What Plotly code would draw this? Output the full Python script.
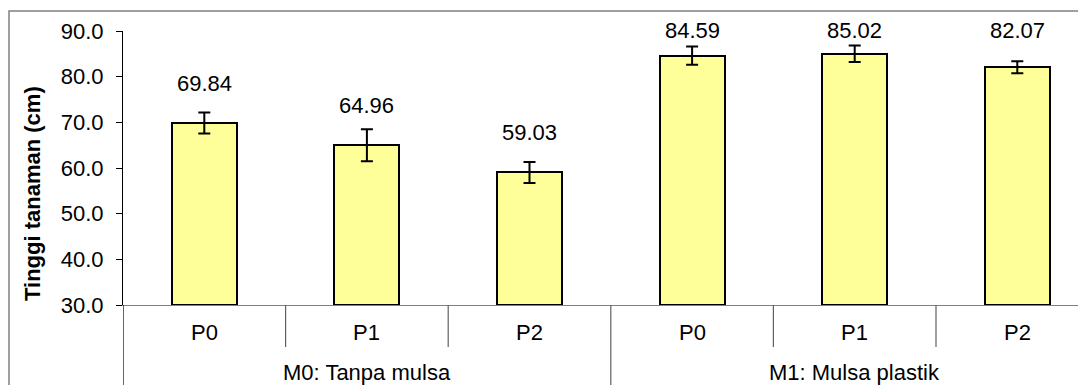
import plotly.graph_objects as go

# ---- data ----
groups = ["M0: Tanpa mulsa", "M1: Mulsa plastik"]
treatments = ["P0", "P1", "P2"]
heights = [69.84, 64.96, 59.03, 84.59, 85.02, 82.07]
errors = [2.3, 3.5, 2.3, 2.0, 1.8, 1.3]
y_ticks = [30, 40, 50, 60, 70, 80, 90]

FONT = "Arial, Liberation Sans, sans-serif"
OFF = 8                      # page body margin in the browser
WIN_W, WIN_H = 1086, 385
W, H = WIN_W - OFF, WIN_H - OFF
# plot area in screen pixels
PX0, PX1, PY0, PY1 = 123, 1086, 31, 305
L, R = PX0 - OFF, 0
T = PY0 - OFF
B = H - (PY1 - OFF)
plot_w = W - L - R
plot_h = H - T - B

n = len(heights)
xs = list(range(n))
cat_px = 162.6
x_max = -0.5 + plot_w / cat_px
y_lo, y_hi = y_ticks[0], y_ticks[-1]
px_per_unit = plot_h / (y_hi - y_lo)

def sx_to_paper(sx):
    return (sx - PX0) / plot_w

def sy_to_paper(sy):
    return (PY1 - sy) / plot_h

def val_to_sy(v):
    return PY1 - (v - y_lo) * px_per_unit

fig = go.Figure()
fig.add_trace(go.Bar(
    x=xs, y=[h - y_lo for h in heights], base=y_lo,
    width=0.4,
    marker=dict(color="#FFFF99", line=dict(color="black", width=2)),
    error_y=dict(type="data", array=errors, visible=True, color="black", thickness=2, width=6),
    hoverinfo="skip",
    showlegend=False,
))

annotations = []
# data labels
for i, h in enumerate(heights):
    sy = max(val_to_sy(h) - 40, 30)
    annotations.append(dict(x=i, y=sy_to_paper(sy), xref="x", yref="paper", text=f"{h:.2f}",
                            showarrow=False, xanchor="center", yanchor="middle",
                            font=dict(family=FONT, size=22, color="black")))
# category labels
for i in range(n):
    annotations.append(dict(x=i, y=sy_to_paper(332), xref="x", yref="paper",
                            text=treatments[i % 3], showarrow=False,
                            xanchor="center", yanchor="middle",
                            font=dict(family=FONT, size=22, color="black")))
# group labels
for g, name in enumerate(groups):
    annotations.append(dict(x=g * 3 + 1, y=sy_to_paper(372), xref="x", yref="paper",
                            text=name, showarrow=False,
                            xanchor="center", yanchor="middle",
                            font=dict(family=FONT, size=22, color="black")))
# y title
annotations.append(dict(x=sx_to_paper(32), y=sy_to_paper(194), xref="paper", yref="paper",
                        text="<b>Tinggi tanaman (cm)</b>", textangle=-90, showarrow=False,
                        xanchor="center", yanchor="middle",
                        font=dict(family=FONT, size=22, color="black")))

shapes = []
# outer chart border
shapes.append(dict(type="rect", xref="paper", yref="paper",
                   x0=sx_to_paper(9), x1=sx_to_paper(WIN_W + 20),
                   y0=sy_to_paper(WIN_H + 20), y1=sy_to_paper(11),
                   line=dict(color="#808080", width=1.5), fillcolor="rgba(0,0,0,0)", layer="below"))
# category separators
for b in [0.5, 1.5, 3.5, 4.5]:
    shapes.append(dict(type="line", xref="x", yref="paper", x0=b, x1=b,
                       y0=sy_to_paper(347), y1=0, line=dict(color="#606060", width=1.2)))
# group separators (including left edge)
for b in [-0.5, 2.5]:
    shapes.append(dict(type="line", xref="x", yref="paper", x0=b, x1=b,
                       y0=sy_to_paper(WIN_H + 10), y1=0,
                       line=dict(color="black" if b < 0 else "#606060", width=1.2)))

fig.update_layout(
    width=W, height=H,
    margin=dict(l=L, r=R, t=T, b=B),
    paper_bgcolor="white", plot_bgcolor="white",
    bargap=0,
    annotations=annotations,
    shapes=shapes,
    xaxis=dict(range=[-0.5, x_max], showgrid=False, zeroline=False,
               showticklabels=False, ticks="", showline=True, linecolor="#808080", linewidth=1.2,
               fixedrange=True),
    yaxis=dict(range=[y_lo, y_hi], tickvals=y_ticks,
               ticktext=[f"{v:.1f}" for v in y_ticks],
               showgrid=False, zeroline=False, showline=True, linecolor="black", linewidth=1.2,
               ticks="outside", ticklen=6, tickcolor="black", tickwidth=1.2,
               ticklabelstandoff=8,
               tickfont=dict(family=FONT, size=22, color="black"), fixedrange=True),
)

fig.write_html("out.html", config={"displayModeBar": False})
